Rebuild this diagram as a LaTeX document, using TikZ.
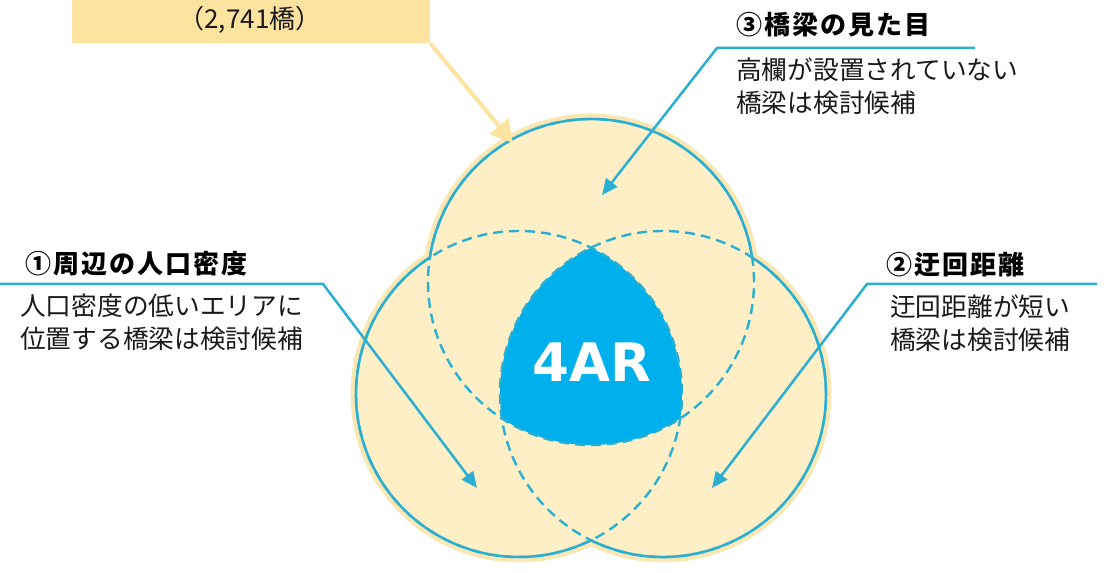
\documentclass[tikz,border=0pt]{standalone}
\usepackage{fontspec}
\usetikzlibrary{arrows.meta}
\newfontfamily\jp{Noto Sans CJK JP}
\newfontfamily\dv{DejaVu Sans}
\definecolor{vblue}{HTML}{2AAFD3}
\definecolor{cream}{HTML}{FEEFC6}
\definecolor{halo}{HTML}{FBE7B3}
\definecolor{boxy}{HTML}{FCE3A0}
\definecolor{corecol}{HTML}{00B0EC}
\definecolor{txt}{HTML}{1A1A1A}
\begin{document}
\begin{tikzpicture}[x=1pt,y=1pt,
  body/.style={font=\jp\fontsize{25.7}{33}\selectfont, align=left, anchor=west, inner sep=0pt, text=txt},
  ttl/.style={font=\jp\bfseries\fontsize{26}{30}\selectfont\addfontfeature{LetterSpace=8}, anchor=west, inner sep=0pt, text=black},
  barrow/.style={vblue, line width=2.5pt, -{Triangle[length=16pt,width=14pt]}},
  dashc/.style={vblue, line width=2.4pt, dash pattern=on 10pt off 6pt},
  solidc/.style={vblue, line width=2.5pt}
]
\useasboundingbox (0,0) rectangle (1112,573);
\coordinate (T) at (591,291);
\coordinate (L) at (519,179);
\coordinate (R) at (663,179);
% halo and fill
\foreach \c in {T,L,R} \draw[halo, line width=7pt] (\c) circle[radius=165];
\foreach \c in {T,L,R} \fill[cream] (\c) circle[radius=164];
% core region
\begin{scope}
\clip (T) circle[radius=163];
\clip (L) circle[radius=163];
\fill[corecol] (R) circle[radius=163];
\end{scope}
% dashed circles
\foreach \c in {T,L,R} \draw[dashc] (\c) circle[radius=163];
% solid outer arcs
\draw[solidc] ([shift={(8.65:163)}]T) arc[start angle=8.65, end angle=171.35, radius=163];
\draw[solidc] ([shift={(123.1:163)}]L) arc[start angle=123.1, end angle=296.2, radius=163];
\draw[solidc] ([shift={(243.8:163)}]R) arc[start angle=243.8, end angle=416.9, radius=163];
% center label
\node[font=\dv\bfseries\fontsize{53}{53}\selectfont, text=white, inner sep=0pt] (core) at (592,211) {4AR};
% count box
\node[fill=boxy, minimum width=358pt, minimum height=43pt, anchor=north west, inner sep=0pt] (box) at (72,573) {};
\node[font=\jp\fontsize{26}{26}\selectfont, text=txt] (cnt) at (250,553) {（2,741橋）};
\coordinate (yt) at (513,430);
\draw[boxy, line width=4pt, -{Triangle[length=22pt,width=24pt]}] (box.south east) -- (yt);
% criterion 3
\node[ttl] (t3) at (736,548) {③橋梁の見た目};
\node[body] (b3) at (736,486.5) {高欄が設置されていない\\橋梁は検討候補};
\coordinate (u3a) at (975,525);
\coordinate (u3b) at (717,525);
\coordinate (tip3) at (602,378);
\draw[barrow] (u3a) -- (u3b) -- (tip3);
% criterion 1
\node[ttl] (t1) at (25,309) {①周辺の人口密度};
\node[body] (b1) at (20,250.5) {人口密度の低いエリアに\\位置する橋梁は検討候補};
\coordinate (u1a) at (0,289);
\coordinate (u1b) at (323,289);
\coordinate (tip1) at (477,85);
\draw[barrow] (u1a) -- (u1b) -- (tip1);
% criterion 2
\node[ttl] (t2) at (886,308) {②迂回距離};
\node[body] (b2) at (890,249.5) {迂回距離が短い\\橋梁は検討候補};
\coordinate (u2a) at (1097,289);
\coordinate (u2b) at (867,289);
\coordinate (tip2) at (712,85);
\draw[barrow] (u2a) -- (u2b) -- (tip2);
\end{tikzpicture}
\end{document}
